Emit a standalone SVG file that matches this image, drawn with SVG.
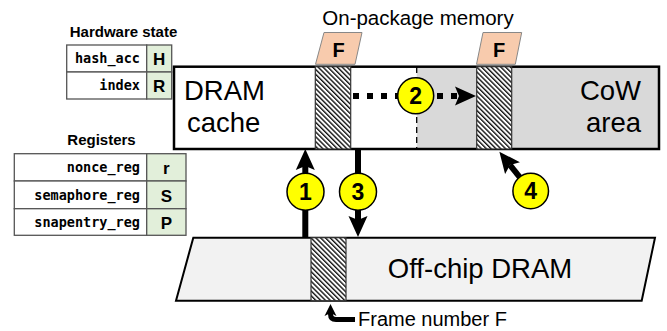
<svg xmlns="http://www.w3.org/2000/svg" width="667" height="331" viewBox="0 0 667 331">
<style>
.sans{font-family:"Liberation Sans",Arial,sans-serif}
.big{font-family:"Liberation Sans",Arial,sans-serif;font-size:27.5px;fill:#000}
.title{font-family:"Liberation Sans",Arial,sans-serif;font-size:15px;font-weight:bold}
.mono{font-family:"DejaVu Sans Mono",monospace;font-size:13.5px;font-weight:bold;text-anchor:end}
.tag{font-family:"Liberation Sans",Arial,sans-serif;font-size:17px;font-weight:bold;text-anchor:middle}
.cell{fill:#fff;stroke:#555;stroke-width:1.3}
.green{fill:#e2efda;stroke:#555;stroke-width:1.3}
.hatch{fill:url(#hatch);stroke:#333;stroke-width:1.2}
.fbox{fill:#f8cbad;stroke:#888;stroke-width:1}
.ftxt{font-family:"Liberation Sans",Arial,sans-serif;font-size:20px;font-weight:bold;text-anchor:middle}
.num{fill:#ffff00;stroke:#000;stroke-width:1.5}
.numt{font-family:"Liberation Sans",Arial,sans-serif;font-size:23px;font-weight:bold;text-anchor:middle}
.arr{stroke:#000;stroke-width:6;fill:none}
</style>
<defs>
<pattern id="hatch" patternUnits="userSpaceOnUse" width="3.4" height="3.4" patternTransform="rotate(-45)">
<rect width="3.4" height="3.4" fill="#fff"/>
<line x1="0.7" y1="0" x2="0.7" y2="3.4" stroke="#000" stroke-width="1.3"/>
</pattern>
<marker id="ah" markerUnits="userSpaceOnUse" markerWidth="22" markerHeight="20" viewBox="0 0 22 20" refX="4" refY="10" orient="auto">
<path d="M0,0.5 L21,10 L0,19.5 L4,10 Z" fill="#000"/>
</marker>
<marker id="ahs" markerUnits="userSpaceOnUse" markerWidth="14" markerHeight="14" viewBox="0 0 14 14" refX="3" refY="7" orient="auto">
<path d="M0,1 L12,7 L0,13 L3,7 Z" fill="#000"/>
</marker>
</defs>
<rect width="667" height="331" fill="#fff"/>

<g id="hardware-state">
<text class="title" x="123.5" y="37" text-anchor="middle">Hardware state</text>
<rect class="cell" x="66.7" y="45" width="80" height="27"/>
<rect class="green" x="146.7" y="45" width="25" height="27"/>
<rect class="cell" x="66.7" y="72" width="80" height="27"/>
<rect class="green" x="146.7" y="72" width="25" height="27"/>
<text class="mono" x="140" y="63">hash_acc</text>
<text class="tag" x="159.2" y="65">H</text>
<text class="mono" x="140" y="90">index</text>
<text class="tag" x="159.2" y="92">R</text>
</g>

<g id="registers">
<text class="title" x="101.5" y="145" text-anchor="middle">Registers</text>
<rect class="cell" x="14.3" y="153.7" width="132.4" height="27.3"/>
<rect class="green" x="146.7" y="153.7" width="39.3" height="27.3"/>
<rect class="cell" x="14.3" y="181" width="132.4" height="27.7"/>
<rect class="green" x="146.7" y="181" width="39.3" height="27.7"/>
<rect class="cell" x="14.3" y="208.7" width="132.4" height="26.6"/>
<rect class="green" x="146.7" y="208.7" width="39.3" height="26.6"/>
<text class="mono" x="140" y="172">nonce_reg</text>
<text class="tag" x="166.3" y="174">r</text>
<text class="mono" x="140" y="199.5">semaphore_reg</text>
<text class="tag" x="166.3" y="201.5">S</text>
<text class="mono" x="140" y="226.5">snapentry_reg</text>
<text class="tag" x="166.3" y="228.5">P</text>
</g>

<g id="on-package-memory">
<text class="sans" x="418" y="25" font-size="20.5" text-anchor="middle">On-package memory</text>
<rect x="174" y="66.7" width="485" height="82.3" fill="#fff"/>
<rect x="416.7" y="66.7" width="242.3" height="82.3" fill="#d9d9d9"/>
<line x1="416.7" y1="67" x2="416.7" y2="149" stroke="#000" stroke-width="1.3" stroke-dasharray="6 4"/>
<rect x="174" y="66.7" width="485" height="82.3" fill="none" stroke="#000" stroke-width="2.5"/>
<text class="big" x="184" y="100">DRAM</text>
<text class="big" x="187" y="131.5">cache</text>
<text class="big" x="641" y="100" text-anchor="end">CoW</text>
<text class="big" x="641" y="131.5" text-anchor="end">area</text>
</g>

<g id="frame-cache">
<rect class="hatch" x="315.3" y="66.7" width="35.4" height="82.3"/>
<polygon class="fbox" points="324,32.5 362,32.5 355,64.3 315.5,64.3"/>
<text class="ftxt" x="338.5" y="56.5">F</text>
</g>

<g id="frame-cow">
<rect class="hatch" x="476.7" y="66.7" width="35" height="82.3"/>
<polygon class="fbox" points="483,32.5 521.7,32.5 515.3,64.3 476.5,64.3"/>
<text class="ftxt" x="499" y="56.5">F</text>
</g>

<g id="off-chip-dram">
<polygon points="193.3,237.7 655,237.7 641.7,300.7 176,300.7" fill="#f2f2f2" stroke="#000" stroke-width="2"/>
<rect class="hatch" x="311" y="237.7" width="35" height="63"/>
<text class="big" x="480" y="278" text-anchor="middle">Off-chip DRAM</text>
</g>

<g id="connectors">
<line class="arr" x1="305.3" y1="237" x2="305.3" y2="166" marker-end="url(#ah)"/>
<line class="arr" x1="358" y1="149" x2="358" y2="220" marker-end="url(#ah)"/>
<line class="arr" x1="530" y1="190" x2="510" y2="165" marker-end="url(#ah)"/>
<line x1="353" y1="96" x2="459" y2="96" stroke="#000" stroke-width="6" stroke-dasharray="6 8" marker-end="url(#ah)"/>
<path d="M355,319.5 L336,319.5 Q330.5,319.5 330.5,314 L330.5,313" fill="none" stroke="#000" stroke-width="5" marker-end="url(#ahs)"/>
</g>

<g id="step-1">
<circle class="num" cx="305.5" cy="191.7" r="18.5"/>
<text class="numt" x="305.5" y="200">1</text>
</g>
<g id="step-2">
<circle class="num" cx="415.7" cy="95.7" r="18"/>
<text class="numt" x="415.7" y="104">2</text>
</g>
<g id="step-3">
<circle class="num" cx="358" cy="191.7" r="18.5"/>
<text class="numt" x="358" y="200">3</text>
</g>
<g id="step-4">
<circle class="num" cx="530.7" cy="191" r="17.8"/>
<text class="numt" x="530.7" y="199.3">4</text>
</g>

<text class="sans" x="358" y="326" font-size="20">Frame number F</text>
</svg>
